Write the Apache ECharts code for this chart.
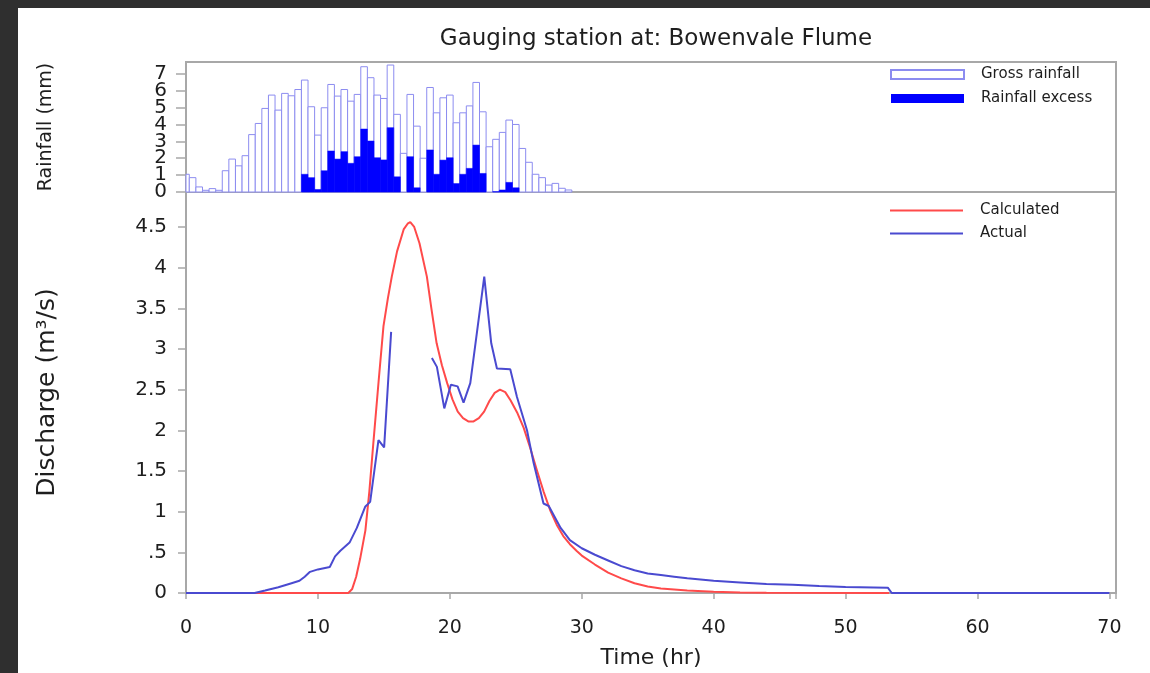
<!DOCTYPE html>
<html><head><meta charset="utf-8">
<script src="https://cdn.jsdelivr.net/npm/echarts@6/dist/echarts.min.js"></script>
<style>html,body{margin:0;padding:0;background:#fff;}#c{width:1150px;height:673px;}</style>
</head><body><div id="c"></div>
<script>
// Rainfall: half-hourly bars centred at 0, 0.5, 1.0 ... hr
const rainStep = 0.5;
const grossRainfall = [1.05,0.85,0.3,0.1,0.2,0.1,1.26,1.95,1.55,2.15,3.4,4.06,4.95,5.74,4.85,5.84,5.7,6.07,6.63,5.05,3.37,4.99,6.37,5.68,6.07,5.38,5.78,7.42,6.77,5.74,5.54,7.52,4.6,2.29,5.78,3.9,2.0,6.19,4.69,5.58,5.74,4.1,4.69,5.1,6.49,4.75,2.68,3.12,3.53,4.26,4.0,2.58,1.76,1.05,0.85,0.41,0.51,0.22,0.12];
const rainfallExcess = [0,0,0,0,0,0,0,0,0,0,0,0,0,0,0,0,0,0,1.05,0.85,0.15,1.26,2.43,1.95,2.39,1.7,2.09,3.73,3.02,2.03,1.9,3.81,0.9,0,2.09,0.25,0,2.49,1.05,1.89,2.03,0.5,1.05,1.4,2.78,1.1,0,0.02,0.12,0.57,0.25,0,0,0,0,0,0,0,0];
const rainTicksEven = [0,2,4,6];
const rainTicksOdd = [1,3,5,7];

// Discharge hydrographs [time (hr), discharge (m3/s)]
const calculated = [[5.2,0],[12.3,0],[12.6,0.05],[12.9,0.2],[13.2,0.42],[13.6,0.77],[13.9,1.25],[14.2,1.84],[14.6,2.6],[14.97,3.28],[15.3,3.62],[15.6,3.89],[16.0,4.2],[16.5,4.47],[16.8,4.54],[17.0,4.56],[17.3,4.5],[17.7,4.3],[18.26,3.89],[18.6,3.5],[19.0,3.07],[19.4,2.8],[19.8,2.58],[20.2,2.38],[20.6,2.23],[21.0,2.15],[21.4,2.11],[21.8,2.11],[22.2,2.15],[22.6,2.23],[23.0,2.36],[23.4,2.46],[23.8,2.5],[24.2,2.47],[24.6,2.37],[25.1,2.22],[25.6,2.03],[26.1,1.78],[26.6,1.51],[27.1,1.25],[27.6,1.02],[28.1,0.84],[28.6,0.7],[29.1,0.6],[29.6,0.52],[30,0.46],[31,0.35],[32,0.25],[33,0.18],[34,0.12],[35,0.08],[36,0.055],[38,0.03],[40,0.015],[42,0.006],[44,0.002],[53.3,0]];
const actual = [[0,0],[5.2,0],[6,0.03],[7,0.07],[8,0.12],[8.6,0.15],[9,0.2],[9.4,0.26],[10,0.29],[10.9,0.32],[11.3,0.45],[11.7,0.52],[12.4,0.62],[12.95,0.8],[13.58,1.06],[13.96,1.12],[14.59,1.88],[15.02,1.79],[15.55,3.21],[17,null],[18.64,2.89],[19.02,2.78],[19.58,2.27],[20.08,2.56],[20.59,2.54],[21.04,2.34],[21.55,2.58],[22.61,3.89],[23.14,3.07],[23.57,2.76],[24.58,2.75],[25.09,2.41],[25.85,2.0],[26.35,1.6],[27.1,1.1],[27.5,1.07],[28.4,0.8],[29.1,0.65],[30,0.55],[31,0.47],[32,0.4],[33,0.33],[34,0.28],[35,0.24],[36,0.22],[37,0.2],[38,0.18],[40,0.15],[42,0.13],[44,0.11],[46,0.1],[48,0.085],[50,0.075],[53.2,0.065],[53.5,0],[70,0]];

const xTicks = [0,10,20,30,40,50,60,70];

const grossData = grossRainfall.map((v,i)=>[i*rainStep, v]);
const excessData = rainfallExcess.map((v,i)=>[i*rainStep, v]);

function barRender(fill, stroke, lw){
  return function(params, api){
    const x = api.value(0), v = api.value(1);
    if (!v) return null;
    const p0 = api.coord([x - rainStep/2, v]);
    const p1 = api.coord([x + rainStep/2, 0]);
    const shape = echarts.graphic.clipRectByRect(
      {x:p0[0], y:p0[1], width:p1[0]-p0[0], height:p1[1]-p0[1]},
      {x:params.coordSys.x, y:params.coordSys.y, width:params.coordSys.width, height:params.coordSys.height});
    if (!shape) return null;
    return {type:'rect', shape:shape, style:{fill:fill, stroke:stroke, lineWidth:lw}};
  };
}

const FONT = 'DejaVu Sans, Liberation Sans, Arial, sans-serif';
const TXT = '#1e1e1e';
const rainLabel = (list)=>({margin:19, fontFamily:FONT, fontSize:20, color:TXT, hideOverlap:false,
  formatter:v=> list.indexOf(v)>=0 ? String(v) : ''});
const chart = echarts.init(document.getElementById('c'), null, {renderer:'canvas'});
chart.setOption({
  backgroundColor:'#ffffff',
  animation:false,
  textStyle:{fontFamily:FONT, color:TXT},
  title:{text:'Gauging station at: Bowenvale Flume', left:651, top:23, textAlign:'center',
    textStyle:{fontFamily:FONT, fontSize:23, fontWeight:'normal', color:TXT}},
  graphic:[
    {type:'rect', shape:{x:0,y:0,width:1150,height:8}, style:{fill:'#2f2f2f'}, z:100},
    {type:'rect', shape:{x:0,y:0,width:18,height:673}, style:{fill:'#2f2f2f'}, z:100}
  ],
  legend:[
    {left:885, top:62, orient:'vertical', itemWidth:73, itemHeight:9, itemGap:9,
      textStyle:{fontFamily:FONT, fontSize:15, color:TXT, padding:[0,0,0,12]},
      data:[
        {name:'Gross rainfall', icon:'rect', itemStyle:{color:'#fff', borderColor:'#8c8cf0', borderWidth:2}},
        {name:'Rainfall excess', icon:'rect', itemStyle:{color:'#0000ff', borderWidth:0}}
      ]},
    {left:885, top:198, orient:'vertical', itemWidth:73, itemHeight:2, itemGap:8,
      textStyle:{fontFamily:FONT, fontSize:15, color:TXT, padding:[0,0,0,12]},
      data:[
        {name:'Calculated', icon:'rect', itemStyle:{color:'#ff4a4a'}},
        {name:'Actual', icon:'rect', itemStyle:{color:'#4a4ad0'}}
      ]}
  ],
  grid:[
    {left:186, right:34, top:62, height:130, show:true, borderColor:'#a8a8a8', borderWidth:2, backgroundColor:'transparent', containLabel:false, outerBoundsMode:'none'},
    {left:186, right:34, top:192, bottom:80, show:true, borderColor:'#a8a8a8', borderWidth:2, backgroundColor:'transparent', containLabel:false, outerBoundsMode:'none'}
  ],
  xAxis:[
    {type:'value', gridIndex:0, min:0, max:70.5, interval:10, axisLine:{show:false}, axisTick:{show:false}, axisLabel:{show:false}, splitLine:{show:false}},
    {type:'value', gridIndex:1, min:0, max:70.5, interval:10,
      name:'Time (hr)', nameLocation:'middle', nameGap:54,
      nameTextStyle:{fontFamily:FONT, fontSize:22, color:TXT},
      axisLine:{lineStyle:{color:'#a8a8a8', width:2}},
      axisTick:{length:6, lineStyle:{color:'#a8a8a8', width:1.5}},
      axisLabel:{margin:26, fontFamily:FONT, fontSize:19, color:TXT, formatter:v=> xTicks.indexOf(v)>=0 ? String(v) : ''},
      splitLine:{show:false}}
  ],
  yAxis:[
    {type:'value', gridIndex:0, min:0, max:7.7, interval:1,
      name:'Rainfall (mm)', nameLocation:'middle', nameGap:130, nameRotate:90,
      nameTextStyle:{fontFamily:FONT, fontSize:19, color:TXT},
      axisLine:{lineStyle:{color:'#a8a8a8', width:2}},
      axisTick:{length:10, lineStyle:{color:'#a8a8a8', width:1.5}},
      axisLabel:Object.assign(rainLabel(rainTicksEven), {showMinLabel:true, showMaxLabel:false}),
      splitLine:{show:false}},
    {type:'value', gridIndex:1, min:0, max:4.93, interval:0.5,
      name:'Discharge (m³/s)', nameLocation:'middle', nameGap:126, nameRotate:90,
      nameTextStyle:{fontFamily:FONT, fontSize:25, color:TXT},
      axisLine:{lineStyle:{color:'#a8a8a8', width:2}},
      axisTick:{length:8, lineStyle:{color:'#a8a8a8', width:1.5}},
      axisLabel:{margin:19, fontFamily:FONT, fontSize:20, color:TXT, showMinLabel:true, hideOverlap:false,
        formatter:v=>{ if (v>4.5+1e-9) return ''; if (Math.abs(v-0.5)<1e-9) return '.5'; return String(+v.toFixed(1)); }},
      splitLine:{show:false}},
    {type:'value', gridIndex:0, min:0, max:7.7, interval:1, position:'left', offset:0,
      axisLine:{show:false}, axisTick:{show:false}, splitLine:{show:false},
      axisLabel:Object.assign(rainLabel(rainTicksOdd), {showMinLabel:false, showMaxLabel:false})}
  ],
  series:[
    {name:'Gross rainfall', type:'custom', xAxisIndex:0, yAxisIndex:0, data:grossData,
      itemStyle:{color:'#fff', borderColor:'#8c8cf0'},
      renderItem:barRender('#ffffff', '#8c8cf0', 1), z:2},
    {name:'Rainfall excess', type:'custom', xAxisIndex:0, yAxisIndex:0, data:excessData,
      itemStyle:{color:'#0000ff'},
      renderItem:barRender('#0000ff', '#0000ff', 0.5), z:3},
    {name:'Calculated', type:'line', xAxisIndex:1, yAxisIndex:1, data:calculated, showSymbol:false, symbol:'none',
      lineStyle:{color:'#ff4a4a', width:2}, itemStyle:{color:'#ff4a4a'}, smooth:false, z:3},
    {name:'Actual', type:'line', xAxisIndex:1, yAxisIndex:1, data:actual, showSymbol:false, symbol:'none', connectNulls:false,
      lineStyle:{color:'#4a4ad0', width:2}, itemStyle:{color:'#4a4ad0'}, z:4}
  ]
});
</script></body></html>
